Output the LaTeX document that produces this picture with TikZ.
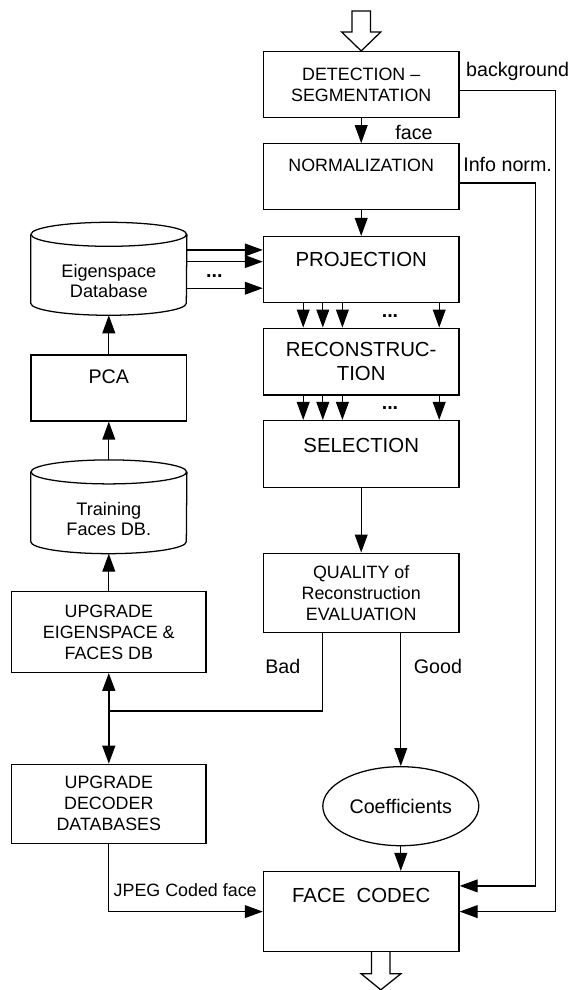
\documentclass[tikz,border=0pt]{standalone}
\usepackage{fontspec}
\setmainfont{Liberation Sans}
\usepackage{tikz}
\usetikzlibrary{arrows.meta, shapes.geometric}

\begin{document}
\begin{tikzpicture}[
  box/.style={rectangle, draw, line width=0.9pt, minimum width=4.89cm,
              inner sep=0pt, align=center, font=\fontsize{12.7}{14.9}\selectfont},
  bigbox/.style={box, font=\fontsize{14.5}{16.6}\selectfont},
  sidebox/.style={box, minimum width=4.86cm},
  dbase/.style={rectangle, minimum width=3.89cm, minimum height=1.71cm,
                inner sep=0pt, align=center, font=\fontsize{12.9}{14.6}\selectfont},
  lbl/.style={inner sep=0pt, font=\fontsize{14}{16}\selectfont},
  dots/.style={inner sep=0pt, anchor=base, font=\fontsize{14}{16}\selectfont\bfseries},
  link/.style={line width=0.9pt},
  arr/.style={link, -{Triangle[length=0.45cm, width=0.32cm]}},
  twoway/.style={line width=1.4pt,
                 {Triangle[length=0.45cm, width=0.32cm]}-{Triangle[length=0.45cm, width=0.32cm]}},
  hollow/.style={draw, line width=0.9pt, line join=miter},
]
\useasboundingbox (0,0) rectangle (14.25,24.75);

% main chain
\node[box, minimum height=1.64cm] (det) at (9.03, 22.64) {DETECTION \textendash\\SEGMENTATION};
\node[box, minimum height=1.65cm, text depth=0.6cm] (norm) at (9.03, 20.33) {NORMALIZATION};
\node[bigbox, minimum height=1.65cm, text depth=0.52cm] (proj) at (9.03, 18.01) {PROJECTION};
\node[bigbox, minimum height=1.67cm] (recon) at (9.03, 15.71) {RECONSTRUC-\\TION};
\node[bigbox, minimum height=1.67cm, text depth=0.45cm] (sel) at (9.03, 13.40) {SELECTION};
\node[box, minimum height=1.98cm] (qual) at (9.03, 9.93) {QUALITY of\\Reconstruction\\EVALUATION};
\node[ellipse, draw, line width=0.9pt, minimum width=3.9cm, minimum height=1.975cm,
      inner sep=0pt, font=\fontsize{14}{16}\selectfont] (coef) at (10.02, 4.595) {Coefficients};
\node[bigbox, minimum height=2cm, text depth=0.835cm] (codec) at (9.03, 1.96) {FACE\ \ CODEC};

% training side
\node[dbase] (eigdb) at (2.72, 17.73) {Eigenspace\\Database};
\node[box, minimum width=3.89cm, minimum height=1.65cm, text depth=0.565cm,
      font=\fontsize{14}{16}\selectfont] (pca) at (2.72, 15.05) {PCA};
\node[dbase, minimum height=1.73cm] (train) at (2.72, 11.78) {Training\\Faces DB.};
\node[sidebox, minimum height=2.015cm] (upgeig) at (2.72, 8.95) {UPGRADE\\EIGENSPACE \&\\FACES DB};
\node[sidebox, minimum height=1.975cm] (upgdec) at (2.72, 4.655) {UPGRADE\\DECODER\\DATABASES};

\foreach \db in {eigdb, train} {
  \draw[link] ([yshift=0.3cm]\db.north) ellipse [x radius=1.945cm, y radius=0.3cm];
  \draw[link] ([yshift=0.3cm]\db.north west) -- ([yshift=0.3cm]\db.south west)
    arc [start angle=180, end angle=360, x radius=1.945cm, y radius=0.3cm]
    -- ([yshift=0.3cm]\db.north east);
}

% labels
\node[lbl] (facelbl) at (10.35, 21.43) {face};
\node[lbl] (bglbl) at (12.94, 22.96) {background};
\node[lbl] (infolbl) at (12.69, 20.63) {Info norm.};
\node[lbl] (badlbl) at (7.07, 8.08) {Bad};
\node[lbl] (goodlbl) at (10.95, 8.08) {Good};
\node[lbl, font=\fontsize{12.7}{14.9}\selectfont] (jpeglbl) at (4.63, 2.5) {JPEG Coded face};
\node[dots] (dotsA) at (5.36, 17.8) {...};
\node[dots] (dotsB) at (9.75, 16.8) {...};
\node[dots] (dotsC) at (9.75, 14.5) {...};

% input / output
\draw[hollow] (det.north) -- ++(-0.49,0.475) -- ++(0.26,0) -- ++(0,0.525) -- ++(0.46,0)
  -- ++(0,-0.525) -- ++(0.26,0) -- cycle;
\draw[hollow] ([xshift=0.26cm]codec.south) -- ++(0,-0.54) -- ++(-0.26,0) -- ++(0.49,-0.4)
  -- ++(0.5,0.4) -- ++(-0.27,0) -- ++(0,0.54);

% connectors
\draw[arr] (det) -- (norm);
\draw[arr] (norm) -- (proj);
\foreach \dy [count=\i] in {0.771, 0.479, -0.186} {
  \coordinate (e\i) at ([yshift=\dy cm]eigdb.east);
  \draw[arr] (e\i) -- (e\i -| proj.west);
}
\foreach \dx in {-1.45, -0.96, -0.47, 1.95} {
  \draw[arr] ([xshift=\dx cm]proj.south) -- ([xshift=\dx cm]recon.north);
  \draw[arr] ([xshift=\dx cm]recon.south) -- ([xshift=\dx cm]sel.north);
}
\draw[arr] (sel) -- (qual);
\draw[arr] (coef.north |- qual.south) -- (coef.north);
\draw[arr] (coef) -- (coef |- codec.north);
\coordinate (badc) at (2.72, 6.975);
\draw[link] ([xshift=-0.97cm]qual.south) |- (badc);
\draw[twoway] (upgdec) -- (upgeig);
\draw[arr] (upgdec.south) |- (codec.west);
\draw[arr] (pca.north) -- (eigdb.south);
\draw[arr] ([yshift=0.6cm]train.north) -- (pca.south);
\draw[arr] (upgeig.north) -- (train.south);

\coordinate (bgcol) at (13.89, 0);
\coordinate (infocol) at (13.39, 0);
\coordinate (infoend) at ([yshift=0.6425cm]codec.east);
\draw[arr] ([yshift=-0.155cm]det.east) -| (bgcol |- codec.east) -- (codec.east);
\draw[arr] ([yshift=-0.1575cm]norm.east) -| (infocol |- infoend) -- (infoend);

\end{tikzpicture}
\end{document}
